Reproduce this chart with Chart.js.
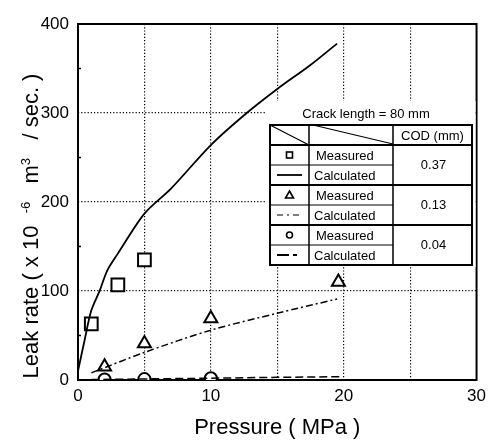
<!DOCTYPE html>
<html>
<head>
<meta charset="utf-8">
<script src="https://cdn.jsdelivr.net/npm/chart.js@4.4.1/dist/chart.umd.min.js"></script>
<style>
  html, body { margin: 0; padding: 0; background: #fff; }
</style>
</head>
<body>
<canvas id="leakChart" width="492" height="444"></canvas>
<script>
// Measured leak rates (x 10^-6 m3/sec) vs pressure (MPa)
const measP037 = [1, 3, 5];
const measL037 = [63, 107, 135];
const measP013 = [2, 5, 10, 19.6];
const measL013 = [15, 41, 69, 110];
const measP004 = [2, 5, 10];
const measL004 = [0.5, 1, 2];

// Calculated curves
const calcP037 = [0, 0.5, 1, 1.65, 2.2, 3, 5, 7, 10, 12.7, 15, 17.5, 19.5];
const calcL037 = [10, 45, 78, 101, 123, 142, 187, 215, 264, 300, 327, 354, 378];
const calcP013 = [1, 5, 10, 15, 19.5];
const calcL013 = [8, 31, 56, 75, 91];
const calcP004 = [1, 5, 10, 15, 19.7];
const calcL004 = [0.5, 1.2, 2, 3, 3.7];

// Legend table text
const codValues = ['0.37', '0.13', '0.04'];
const rowNames = ['Measured', 'Calculated'];
const crackNote = 'Crack length = 80 mm';
const xTitle = 'Pressure ( MPa )';

const FONT = '"Liberation Sans", Arial, Helvetica, sans-serif';
const DASH_013 = [7, 3, 2, 3];
const DASH_004 = [8, 4];

function pts(xs, ys) {
    return xs.map((x, i) => ({ x: x, y: ys[i] }));
}

// Frame, minor ticks, the legend table and axis titles
const decorPlugin = {
    id: 'decor',
    beforeDatasetsDraw(chart) {
        const ctx = chart.ctx, a = chart.chartArea;
        const ys = chart.scales.y;
        ctx.save();
        ctx.strokeStyle = '#000';
        ctx.lineWidth = 2;
        ctx.strokeRect(a.left, a.top, a.right - a.left, a.bottom - a.top);
        // small inward ticks on the left axis
        ctx.lineWidth = 1.5;
        [50, 150, 250, 350].forEach(v => {
            const y = ys.getPixelForValue(v);
            ctx.beginPath();
            ctx.moveTo(a.left, y);
            ctx.lineTo(a.left + 3, y);
            ctx.stroke();
        });
        ctx.restore();
    },
    afterDatasetsDraw(chart) {
        const ctx = chart.ctx, a = chart.chartArea;
        ctx.save();
        // white patch behind note and table
        ctx.fillStyle = '#fff';
        ctx.fillRect(265, 101, a.right - 266, 166);

        ctx.fillStyle = '#000';
        ctx.font = '13px ' + FONT;
        ctx.textAlign = 'center';
        ctx.textBaseline = 'alphabetic';
        ctx.fillText(crackNote, 366, 118);

        const x0 = 270, x1 = 309, x2 = 393, x3 = 472;
        const y0 = 125, yh = 145, rh = 20;
        const yEnd = yh + rh * 6;
        ctx.strokeStyle = '#000';

        // header diagonals
        ctx.lineWidth = 1.2;
        ctx.beginPath();
        ctx.moveTo(x0, y0); ctx.lineTo(x1, yh);
        ctx.moveTo(x1 + 4, y0); ctx.lineTo(x2, yh - 1);
        ctx.stroke();

        // thin lines inside each pair
        ctx.lineWidth = 1;
        for (let g = 0; g < 3; g++) {
            const y = yh + rh * (2 * g + 1);
            ctx.beginPath();
            ctx.moveTo(x0, y); ctx.lineTo(x2, y);
            ctx.stroke();
        }
        // group separators
        ctx.lineWidth = 2;
        for (let g = 0; g < 3; g++) {
            const y = yh + rh * 2 * g;
            ctx.beginPath();
            ctx.moveTo(x0, y); ctx.lineTo(x3, y);
            ctx.stroke();
        }
        // column lines
        ctx.lineWidth = 1.5;
        ctx.beginPath();
        ctx.moveTo(x1, y0); ctx.lineTo(x1, yEnd);
        ctx.moveTo(x2, y0); ctx.lineTo(x2, yEnd);
        ctx.stroke();
        // outer border
        ctx.lineWidth = 2;
        ctx.strokeRect(x0, y0, x3 - x0, yEnd - y0);

        // texts
        ctx.font = '13px ' + FONT;
        ctx.textAlign = 'center';
        ctx.textBaseline = 'middle';
        ctx.fillText('COD (mm)', (x2 + x3) / 2, (y0 + yh) / 2 + 1);
        for (let g = 0; g < 3; g++) {
            const top = yh + rh * 2 * g;
            ctx.textAlign = 'center';
            ctx.fillText(codValues[g], (x2 + x3) / 2 + 1, top + rh);
            ctx.textAlign = 'left';
            ctx.fillText(rowNames[0], x1 + 7, top + rh / 2 + 1);
            ctx.fillText(rowNames[1], x1 + 5, top + rh * 1.5 + 1);
        }

        // symbols
        const cx = (x0 + x1) / 2;
        ctx.lineWidth = 1.6;
        let cy = yh + rh / 2;
        ctx.strokeRect(cx - 3, cy - 3, 6, 6);
        cy = yh + rh * 2.5;
        ctx.beginPath();
        ctx.moveTo(cx, cy - 4); ctx.lineTo(cx + 4, cy + 3); ctx.lineTo(cx - 4, cy + 3);
        ctx.closePath(); ctx.stroke();
        cy = yh + rh * 4.5;
        ctx.beginPath();
        ctx.arc(cx, cy, 3, 0, Math.PI * 2);
        ctx.stroke();

        const lineRow = (k, dash, w) => {
            const y = yh + rh * k;
            ctx.setLineDash(dash);
            ctx.lineWidth = w;
            ctx.beginPath();
            ctx.moveTo(x0 + 7, y); ctx.lineTo(x1 - 7, y);
            ctx.stroke();
        };
        lineRow(1.5, [], 1.8);
        lineRow(3.5, [6, 4, 2, 4], 1.2);
        lineRow(5.5, [12, 4, 4, 40], 1.8);
        ctx.setLineDash([]);
        ctx.restore();
    },
    afterDraw(chart) {
        const ctx = chart.ctx, a = chart.chartArea;
        ctx.save();
        ctx.fillStyle = '#000';
        ctx.textBaseline = 'alphabetic';
        // x title
        ctx.font = '22px ' + FONT;
        ctx.textAlign = 'center';
        ctx.fillText(xTitle, (a.left + a.right) / 2, 434);

        // y title with superscripts
        const segs = [
            { t: 'Leak rate ( x 10  ', sup: false },
            { t: '-6', sup: true },
            { t: '   m', sup: false },
            { t: '3', sup: true },
            { t: '   / sec. )', sup: false }
        ];
        const big = '22px ' + FONT, small = '13px ' + FONT;
        let total = 0;
        segs.forEach(s => {
            ctx.font = s.sup ? small : big;
            s.w = ctx.measureText(s.t).width;
            total += s.w;
        });
        ctx.translate(38, 226);
        ctx.rotate(-Math.PI / 2);
        ctx.textAlign = 'left';
        let x = -total / 2;
        segs.forEach(s => {
            ctx.font = s.sup ? small : big;
            ctx.fillText(s.t, x, s.sup ? -8 : 0);
            x += s.w;
        });
        ctx.restore();
    }
};

const ctx = document.getElementById('leakChart').getContext('2d');
const leakChart = new Chart(ctx, {
    type: 'scatter',
    data: {
        datasets: [
            {
                label: 'Calculated 0.37',
                data: pts(calcP037, calcL037),
                showLine: true,
                borderColor: '#000',
                borderWidth: 1.8,
                pointRadius: 0,
                tension: 0.3
            },
            {
                label: 'Calculated 0.13',
                data: pts(calcP013, calcL013),
                showLine: true,
                borderColor: '#000',
                borderWidth: 1.5,
                borderDash: DASH_013,
                pointRadius: 0,
                tension: 0.3
            },
            {
                label: 'Calculated 0.04',
                data: pts(calcP004, calcL004),
                showLine: true,
                borderColor: '#000',
                borderWidth: 1.5,
                borderDash: DASH_004,
                pointRadius: 0
            },
            {
                label: 'Measured 0.37',
                data: pts(measP037, measL037),
                pointStyle: 'rect',
                pointRadius: 9,
                borderColor: '#000',
                backgroundColor: '#fff',
                borderWidth: 2
            },
            {
                label: 'Measured 0.13',
                data: pts(measP013, measL013),
                pointStyle: 'triangle',
                pointRadius: 7.5,
                borderColor: '#000',
                backgroundColor: '#fff',
                borderWidth: 2
            },
            {
                label: 'Measured 0.04',
                data: pts(measP004, measL004),
                pointStyle: 'circle',
                pointRadius: 6,
                borderColor: '#000',
                backgroundColor: '#fff',
                borderWidth: 2
            }
        ]
    },
    options: {
        responsive: false,
        animation: false,
        layout: { padding: { top: 24, right: 15, left: 0, bottom: 0 } },
        plugins: {
            legend: { display: false },
            tooltip: { enabled: false }
        },
        scales: {
            x: {
                type: 'linear',
                min: 0,
                max: 30,
                afterFit: s => { s.height = 64; },
                ticks: {
                    stepSize: 5,
                    autoSkip: false,
                    maxRotation: 0,
                    padding: 6,
                    color: '#000',
                    font: { family: FONT, size: 17 },
                    callback: v => (v % 10 === 0 ? v : '')
                },
                grid: {
                    drawTicks: false,
                    lineWidth: 1.2,
                    color: c => (c.tick && (c.tick.value === 0 || c.tick.value === 30) ? 'rgba(0,0,0,0)' : '#000')
                },
                border: { display: false, dash: [1.2, 2] }
            },
            y: {
                type: 'linear',
                min: 0,
                max: 400,
                afterFit: s => { s.width = 78; },
                ticks: {
                    stepSize: 100,
                    padding: 9,
                    color: '#000',
                    font: { family: FONT, size: 17 }
                },
                grid: {
                    drawTicks: false,
                    lineWidth: 1.2,
                    color: c => (c.tick && (c.tick.value === 0 || c.tick.value === 400) ? 'rgba(0,0,0,0)' : '#000')
                },
                border: { display: false, dash: [1.2, 2] }
            }
        }
    },
    plugins: [decorPlugin]
});
</script>
</body>
</html>
